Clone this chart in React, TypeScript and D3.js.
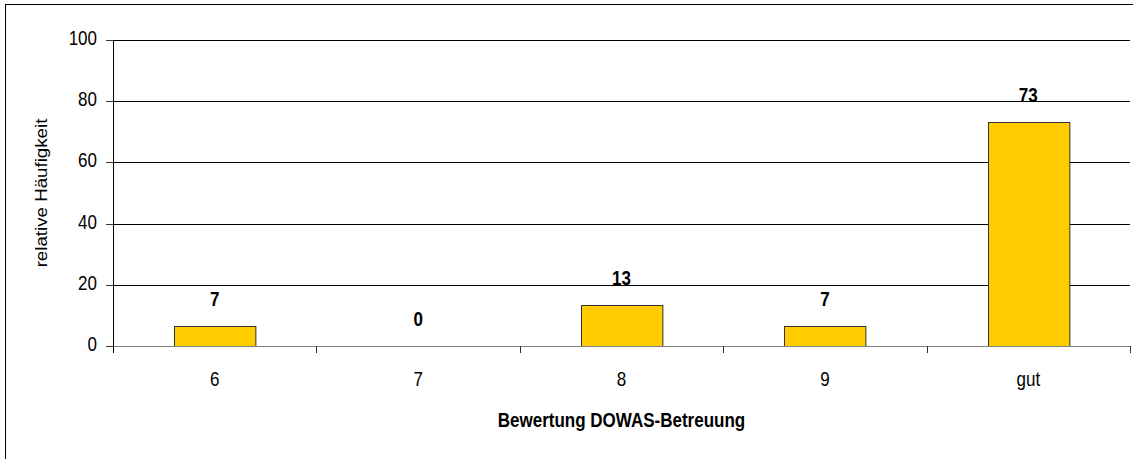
import React, { useEffect, useRef } from 'react';
import * as d3 from 'd3';

// categories and relative frequencies (percent)
const categories: string[] = ['6', '7', '8', '9', 'gut'];
const values: number[] = [6.67, 0, 13.33, 6.67, 73.33];
const yTicks: number[] = [0, 20, 40, 60, 80, 100];

const App: React.FC = () => {
  const svgRef = useRef<SVGSVGElement | null>(null);

  useEffect(() => {
    if (!svgRef.current) return;

    const width = 1133;
    const height = 459;
    const marginLeft = 113;
    const marginRight = 3;
    const marginTop = 40;
    const plotBottom = 346;
    const font = "'Liberation Sans', Arial, sans-serif";
    const stretch = 1.17; // text in the picture is a bit taller than wide

    const svg = d3.select(svgRef.current)
      .attr('width', width)
      .attr('height', height)
      .attr('viewBox', `0 0 ${width} ${height}`);

    svg.selectAll('*').remove();

    // outer frame
    svg.append('rect')
      .attr('x', 5.5).attr('y', 4.5)
      .attr('width', 1140).attr('height', 470)
      .attr('fill', 'white')
      .attr('stroke', 'black')
      .attr('stroke-width', 1);

    const x = d3.scaleBand<string>()
      .domain(categories)
      .range([marginLeft, width - marginRight])
      .paddingInner(0.6)
      .paddingOuter(0.3);

    const xBand = d3.scaleBand<string>()
      .domain(categories)
      .range([marginLeft, width - marginRight]);

    const y = d3.scaleLinear()
      .domain([0, 100])
      .range([plotBottom, marginTop]);

    const label = (g: d3.Selection<SVGGElement, unknown, null, undefined>, tx: number, ty: number, text: string,
      anchor: string, weight = 'normal', size = 17) =>
      g.append('text')
        .attr('transform', `translate(${tx},${ty}) scale(1,${stretch})`)
        .attr('text-anchor', anchor)
        .attr('font-family', font)
        .attr('font-size', size)
        .attr('font-weight', weight)
        .attr('fill', 'black')
        .text(text);

    const root = svg.append('g');

    // gridlines
    yTicks.filter(t => t > 0).forEach(t => {
      root.append('line')
        .attr('x1', marginLeft).attr('x2', width - marginRight)
        .attr('y1', Math.round(y(t)) + 0.5).attr('y2', Math.round(y(t)) + 0.5)
        .attr('stroke', 'black');
    });

    // bars
    root.selectAll('rect.bar')
      .data(values)
      .join('rect')
      .attr('class', 'bar')
      .attr('x', (_, i) => Math.round(x(categories[i])!) + 0.5)
      .attr('y', d => Math.round(y(d)) + 0.5)
      .attr('width', x.bandwidth())
      .attr('height', d => Math.max(0, Math.round(y(0)) - Math.round(y(d))))
      .attr('fill', '#FFCC00')
      .attr('stroke', '#333333')
      .attr('stroke-width', 1)
      .attr('display', d => (d > 0 ? null : 'none'));

    // value labels
    values.forEach((v, i) => {
      label(root, xBand(categories[i])! + xBand.bandwidth() / 2, y(v) - 20, d3.format('.0f')(v), 'middle', 'bold');
    });

    // x axis
    root.append('line')
      .attr('x1', marginLeft).attr('x2', width - marginRight)
      .attr('y1', plotBottom + 0.5).attr('y2', plotBottom + 0.5)
      .attr('stroke', '#808080');
    const bounds = categories.map(c => xBand(c)!).concat([width - marginRight]);
    bounds.forEach(b => {
      root.append('line')
        .attr('x1', Math.round(b) + 0.5).attr('x2', Math.round(b) + 0.5)
        .attr('y1', plotBottom).attr('y2', plotBottom + 7)
        .attr('stroke', '#333333');
    });
    categories.forEach(c => {
      label(root, xBand(c)! + xBand.bandwidth() / 2, 386, c, 'middle');
    });

    // y axis
    root.append('line')
      .attr('x1', marginLeft + 0.5).attr('x2', marginLeft + 0.5)
      .attr('y1', marginTop).attr('y2', plotBottom + 7)
      .attr('stroke', 'black');
    yTicks.forEach(t => {
      root.append('line')
        .attr('x1', marginLeft - 7).attr('x2', marginLeft)
        .attr('y1', Math.round(y(t)) + 0.5).attr('y2', Math.round(y(t)) + 0.5)
        .attr('stroke', '#333333');
      label(root, 97, y(t) + 5, String(t), 'end');
    });

    // axis titles
    label(root, (marginLeft + width - marginRight) / 2, 427, 'Bewertung DOWAS-Betreuung', 'middle', 'bold');

    root.append('text')
      .attr('transform', `translate(47,${(marginTop + plotBottom) / 2}) scale(1,${stretch}) rotate(-90)`)
      .attr('text-anchor', 'middle')
      .attr('font-family', font)
      .attr('font-size', 16)
      .attr('fill', 'black')
      .text('relative Häufigkeit');
  }, []);

  return (
    <div style={{ position: 'absolute', left: 0, top: 0 }}>
      <svg ref={svgRef} style={{ display: 'block' }}></svg>
    </div>
  );
};

export default App;
